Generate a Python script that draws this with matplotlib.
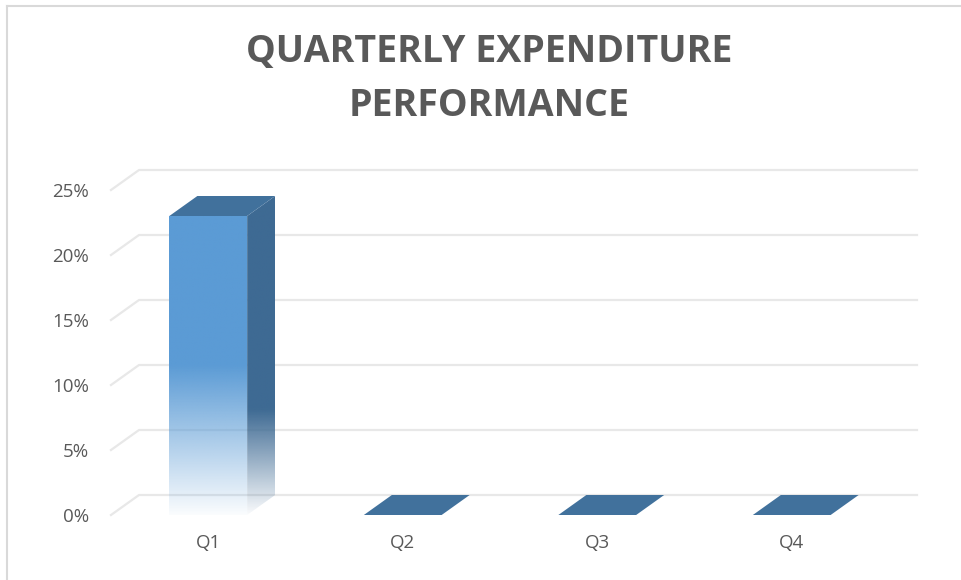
import matplotlib.pyplot as plt
import numpy as np
from matplotlib.patches import Polygon
from matplotlib.lines import Line2D
from matplotlib.colors import to_rgb

# chart data
quarters = ['Q1', 'Q2', 'Q3', 'Q4']
spend = [0.23, 0.0, 0.0, 0.0]
ticks = [0.0, 0.05, 0.10, 0.15, 0.20, 0.25]
tick_labels = ['0%', '5%', '10%', '15%', '20%', '25%']
title_lines = ['QUARTERLY EXPENDITURE', 'PERFORMANCE']

front_col = '#5B9BD5'
side_col = '#3E6A93'
top_col = '#41719C'
grid_col = '#E8E8E8'
text_col = '#595959'

plt.rcParams['font.family'] = ['Open Sans', 'DejaVu Sans']

W, H = 961, 580
fig = plt.figure(figsize=(W / 100, H / 100), dpi=100)
ax = fig.add_axes([111 / W, 1 - 515 / H, 778 / W, 325 / H])
ax.set_xlim(-0.5, len(quarters) - 0.5)
ax.set_ylim(0, 0.25)
ax.set_frame_on(False)

# depth of the fake 3d, 28px right / 20px up, turned into data units
p0 = ax.transData.transform((0, 0))
p1 = ax.transData.transform((1, 1))
ddx = 28 / (p1[0] - p0[0])
ddy = 20 / (p1[1] - p0[1])

# perspective gridlines: floor edge + back wall
x_lo, x_hi = ax.get_xlim()
for t in ticks:
    ax.plot([x_lo, x_lo + ddx, x_hi + ddx], [t, t + ddy, t + ddy],
            color=grid_col, lw=1.6, clip_on=False, zorder=0)


def fade(color, solid_from, n=256):
    # vertical rgba strip, opaque above solid_from (fraction), fading out below
    f = np.linspace(0, 1, n)
    alpha = np.clip(0.03 + 0.97 * f / solid_from, 0, 1)
    img = np.zeros((n, 1, 4))
    img[:, 0, :3] = to_rgb(color)
    img[:, 0, 3] = alpha
    return img


bar_w = 0.4
for i, v in enumerate(spend):
    x0, x1 = i - bar_w / 2, i + bar_w / 2
    if v > 0:
        ax.imshow(fade(front_col, 0.5), extent=(x0, x1, 0, v), origin='lower',
                  aspect='auto', interpolation='bilinear', zorder=2)
        side = Polygon([(x1, 0), (x1 + ddx, ddy), (x1 + ddx, v + ddy), (x1, v)],
                       closed=True, facecolor='none', edgecolor='none')
        ax.add_patch(side)
        im = ax.imshow(fade(side_col, 0.33), extent=(x1, x1 + ddx, 0, v + ddy),
                       origin='lower', aspect='auto', interpolation='bilinear',
                       zorder=2)
        im.set_clip_path(side)
    ax.add_patch(Polygon([(x0, v), (x1, v), (x1 + ddx, v + ddy), (x0 + ddx, v + ddy)],
                         closed=True, facecolor=top_col, edgecolor='none',
                         zorder=3, clip_on=False))

ax.set_xlim(x_lo, x_hi)
ax.set_ylim(0, 0.25)
ax.set_xticks(range(len(quarters)), quarters)
ax.set_yticks(ticks, tick_labels)
ax.tick_params(length=0, labelsize=13.5, labelcolor=text_col)
ax.tick_params(axis='y', pad=16)
ax.tick_params(axis='x', pad=14)

fig.text(489 / W, 1 - 52 / H, title_lines[0], ha='center', va='center',
         fontsize=27, fontweight='bold', color=text_col)
fig.text(489 / W, 1 - 106 / H, title_lines[1], ha='center', va='center',
         fontsize=27, fontweight='bold', color=text_col)

# chart frame (only left and top edges show)
fig.add_artist(Line2D([6.5 / W, 6.5 / W], [0, 1 - 5.5 / H], color='#D9D9D9', lw=1.5))
fig.add_artist(Line2D([6.5 / W, 1], [1 - 5.5 / H, 1 - 5.5 / H], color='#D9D9D9', lw=1.5))

fig.savefig('out.png', dpi=100)
